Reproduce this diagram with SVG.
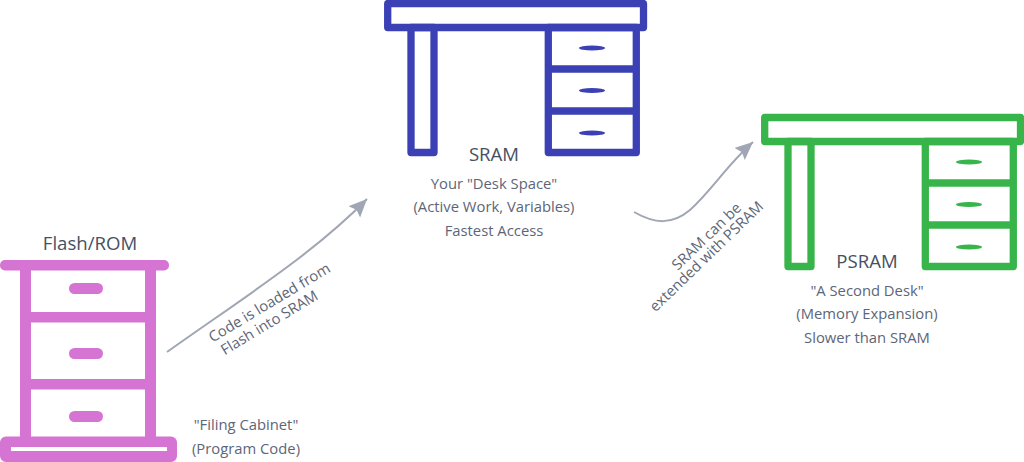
<svg xmlns="http://www.w3.org/2000/svg" width="1024" height="462" viewBox="0 0 1024 462">
<style>
text{font-family:"Open Sans","Liberation Sans",sans-serif;text-anchor:middle}
.t{font-size:18.600px;fill:#475063}
.s{font-size:14.800px;fill:#5d6678}
.l{font-size:14.800px;fill:#5d6678}
.c{fill:none;stroke:#a0a6b3;stroke-width:2}
.cab{fill:#d674d3}
.sr{fill:none;stroke:#3b41b5;stroke-width:7.300;stroke-linejoin:round}
.ps{fill:none;stroke:#38b54a;stroke-width:7.300;stroke-linejoin:round}
</style>
<defs>
<marker id="ah" markerUnits="userSpaceOnUse" markerWidth="22" markerHeight="20" refX="18" refY="8" orient="auto"><path d="M0 0L18 8L0 16L3 8Z" fill="#a0a6b3"/></marker>
</defs>
<g id="connectors">
<path class="c" d="M167 352C240 300 312 255 367 199" marker-end="url(#ah)"/>
<path class="c" d="M634 212C655 224 672 225 690 210C712 190 727 165 753 142" marker-end="url(#ah)"/>
<text class="l" transform="translate(272 307) rotate(-31)">Code is loaded from</text>
<text class="l" transform="translate(272 327) rotate(-31)">Flash into SRAM</text>
<text class="l" transform="translate(710 240) rotate(-44)">SRAM can be</text>
<text class="l" transform="translate(710 260) rotate(-44)">extended with PSRAM</text>
</g>
<g id="flash">
<rect class="cab" x="20" y="260" width="11" height="180"/>
<rect class="cab" x="145" y="260" width="11" height="180"/>
<rect class="cab" x="0" y="260" width="169" height="10.500" rx="5"/>
<rect class="cab" x="20" y="312" width="136" height="10.500"/>
<rect class="cab" x="20" y="379" width="136" height="10.500"/>
<path class="cab" fill-rule="evenodd" d="M6 436.500H171a6 6 0 0 1 6 6V456a6 6 0 0 1-6 6H6a6 6 0 0 1-6-6V442.500a6 6 0 0 1 6-6ZM11 447V451H167V447Z"/>
<rect class="cab" x="69" y="283" width="34" height="11" rx="5.500"/>
<rect class="cab" x="69" y="348" width="34" height="11" rx="5.500"/>
<rect class="cab" x="69" y="411" width="34" height="11" rx="5.500"/>
<text class="t" x="90" y="250">Flash/ROM</text>
<text class="s" x="246" y="430">"Filing Cabinet"</text>
<text class="s" x="246" y="454">(Program Code)</text>
</g>
<g id="sram">
<rect class="sr" x="387.700" y="3.500" width="255.800" height="24"/>
<rect class="sr" x="411" y="27.500" width="23" height="125"/>
<rect class="sr" x="548.300" y="27.500" width="88" height="125"/>
<path class="sr" d="M548 69H636M548 111H636"/>
<ellipse cx="592" cy="48" rx="13" ry="2.500" fill="#3b41b5"/>
<ellipse cx="592" cy="90.500" rx="13" ry="2.500" fill="#3b41b5"/>
<ellipse cx="592" cy="133" rx="13" ry="2.500" fill="#3b41b5"/>
<text class="t" x="494" y="161">SRAM</text>
<text class="s" x="494" y="189">Your "Desk Space"</text>
<text class="s" x="494" y="212">(Active Work, Variables)</text>
<text class="s" x="494" y="236">Fastest Access</text>
</g>
<g id="psram">
<rect class="ps" x="764.700" y="117.500" width="255.800" height="24"/>
<rect class="ps" x="788" y="141.500" width="23" height="125"/>
<rect class="ps" x="925.300" y="141.500" width="88" height="125"/>
<path class="ps" d="M925 183H1013M925 225H1013"/>
<ellipse cx="969" cy="162" rx="13" ry="2.500" fill="#38b54a"/>
<ellipse cx="969" cy="204.500" rx="13" ry="2.500" fill="#38b54a"/>
<ellipse cx="969" cy="247" rx="13" ry="2.500" fill="#38b54a"/>
<text class="t" x="867" y="268">PSRAM</text>
<text class="s" x="867" y="296">"A Second Desk"</text>
<text class="s" x="867" y="319">(Memory Expansion)</text>
<text class="s" x="867" y="343">Slower than SRAM</text>
</g>
</svg>
